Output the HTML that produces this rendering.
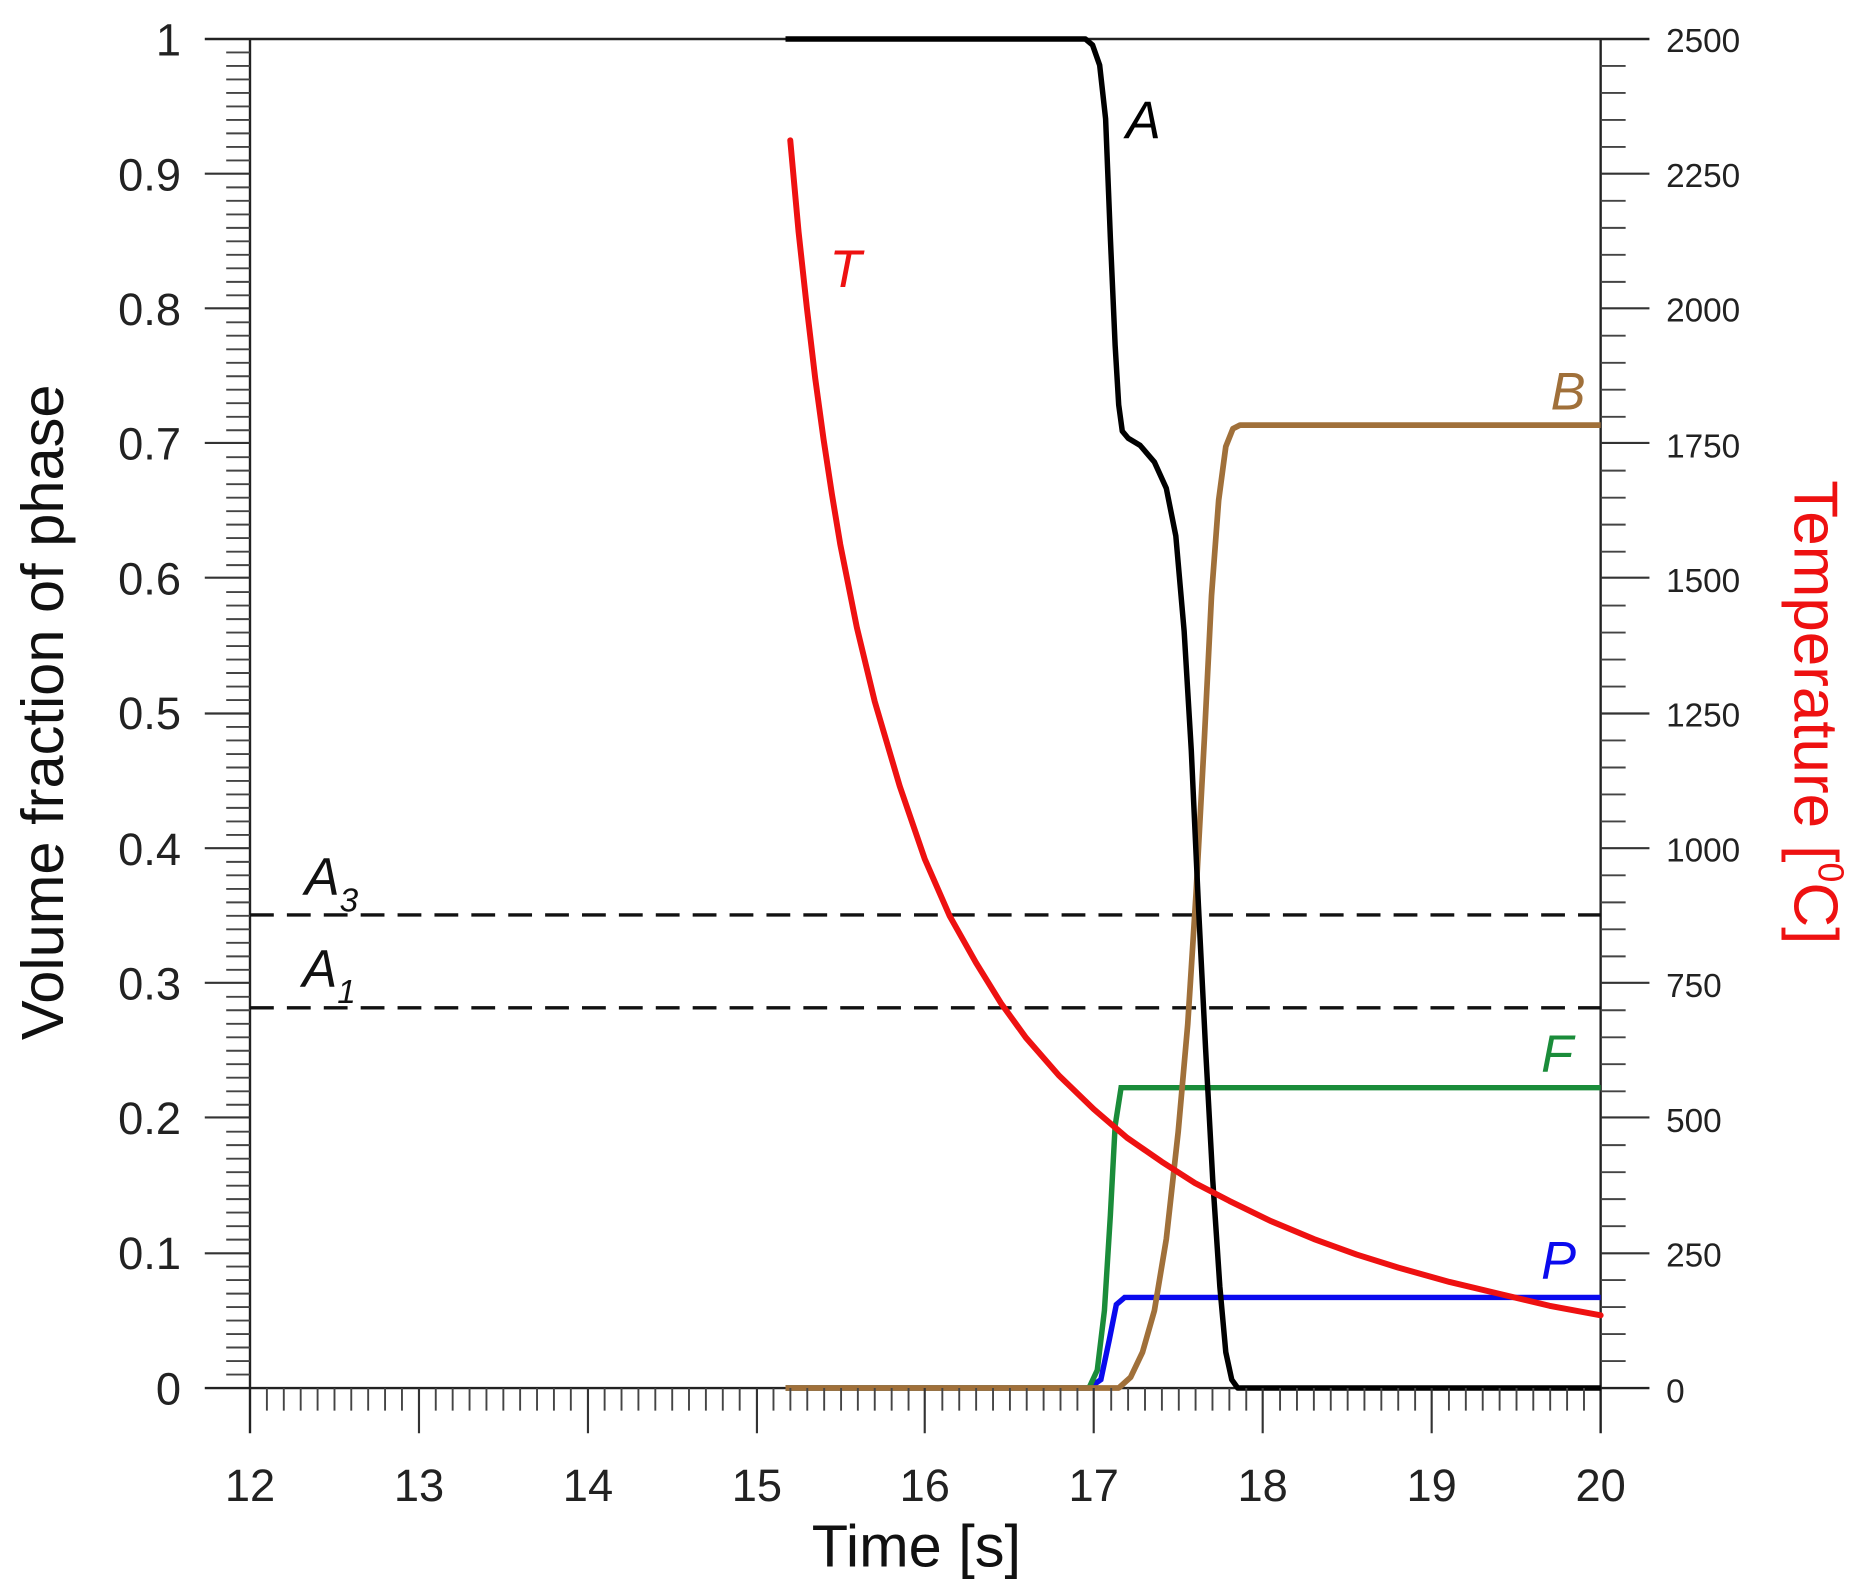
<!DOCTYPE html>
<html><head><meta charset="utf-8"><style>html,body{margin:0;padding:0;background:#fff}svg{display:block}</style></head>
<body>
<svg width="1866" height="1590" viewBox="0 0 1866 1590" xmlns="http://www.w3.org/2000/svg" font-family="'Liberation Sans', Arial, sans-serif">
<g transform="translate(250,39) scale(1.19,1.1917) translate(-210,-33)">
<path d="M172,33 H1386 M210,33 V1203 M172,1165 H1386 M1345,33 V1203" stroke="#222" stroke-width="2" fill="none"/>
<path d="M210,768 H1345 M210,846 H1345" stroke="#111" stroke-width="2.8" stroke-dasharray="20,11" fill="none"/>
<polyline points="660,1165 915,1165 925,1158 932,1125 938,1095 945,1089 1345,1089" stroke="#0a0aee" stroke-width="4.6" fill="none"/>
<polyline points="660,1165 915,1165 922,1150 928,1100 933,1020 937,945 942,913 1345,913" stroke="#1a8c3a" stroke-width="4.6" fill="none"/>
<polyline points="660,1165 940,1165 950,1156 960,1135 970,1100 980,1040 990,950 998,860 1005,750 1012,620 1018,500 1024,420 1030,375 1036,360 1042,357 1345,357" stroke="#a0703a" stroke-width="4.8" fill="none" stroke-linejoin="round"/>
<polyline points="660,33 912,33 918,38 924,55 929,100 933,200 937,290 940,340 943,362 948,368 958,374 970,388 980,410 988,450 995,530 1001,630 1007,760 1013,880 1019,990 1025,1080 1030,1135 1035,1158 1040,1165 1345,1165" stroke="#000" stroke-width="4.6" fill="none" stroke-linejoin="round"/>
<polyline points="664,118 671,195 678,259 685,318 692,369 699,415 706,457 720,527 735,589 756,660 777,721 798,769 820,808 841,842 862,871 890,903 919,931 947,955 976,975 1004,993 1033,1008 1068,1025 1104,1040 1140,1053 1175,1064 1218,1076 1260,1086 1302,1096 1345,1104" stroke="#ee1111" stroke-width="5" fill="none" stroke-linecap="round" stroke-linejoin="round"/>
<g font-style="italic" font-size="44">
<text x="946" y="116" fill="#000">A</text>
<text x="697" y="241" fill="#ee1111">T</text>
<text x="1303" y="344" fill="#a0703a">B</text>
<text x="1295" y="900" fill="#1a8c3a">F</text>
<text x="1295" y="1073" fill="#0a0aee">P</text>
<text x="256" y="751" fill="#111">A<tspan font-size="28" dy="14">3</tspan></text>
<text x="254" y="828" fill="#111">A<tspan font-size="28" dy="14">1</tspan></text>
</g>
<g font-size="38" fill="#222" text-anchor="end">
<text x="152" y="47">1</text><text x="152" y="160">0.9</text><text x="152" y="273">0.8</text><text x="152" y="386">0.7</text><text x="152" y="499">0.6</text><text x="152" y="612">0.5</text><text x="152" y="726">0.4</text><text x="152" y="839">0.3</text><text x="152" y="952">0.2</text><text x="152" y="1065">0.1</text><text x="152" y="1179">0</text>
</g>
<g font-size="38" fill="#222" text-anchor="middle">
<text x="210" y="1260">12</text><text x="352" y="1260">13</text><text x="494" y="1260">14</text><text x="636" y="1260">15</text><text x="777" y="1260">16</text><text x="919" y="1260">17</text><text x="1061" y="1260">18</text><text x="1203" y="1260">19</text><text x="1345" y="1260">20</text>
</g>
<g font-size="28" fill="#222">
<text x="1400" y="44">2500</text><text x="1400" y="157">2250</text><text x="1400" y="270">2000</text><text x="1400" y="384">1750</text><text x="1400" y="497">1500</text><text x="1400" y="610">1250</text><text x="1400" y="723">1000</text><text x="1400" y="837">750</text><text x="1400" y="950">500</text><text x="1400" y="1063">250</text><text x="1400" y="1177">0</text>
</g>
<text x="770" y="1315" font-size="50" fill="#111" text-anchor="middle">Time [s]</text>
<text transform="translate(53,598) rotate(-90)" font-size="50" fill="#111" text-anchor="middle">Volume fraction of phase</text>
<text transform="translate(1508,598) rotate(90)" font-size="52" fill="#ee1111" text-anchor="middle">Temperature [<tspan font-size="30" dy="-20">0</tspan><tspan dy="20">C]</tspan></text>
<path stroke="#333" stroke-width="1.8" fill="none" d="
M172,146H210 M172,259H210 M172,372H210 M172,485H210 M172,599H210 M172,712H210 M172,825H210 M172,938H210 M172,1052H210
M1345,146H1386 M1345,259H1386 M1345,372H1386 M1345,485H1386 M1345,599H1386 M1345,712H1386 M1345,825H1386 M1345,938H1386 M1345,1052H1386
M352,1165V1203 M494,1165V1203 M636,1165V1203 M777,1165V1203 M919,1165V1203 M1061,1165V1203 M1203,1165V1203
"/>
<path stroke="#444" stroke-width="1.6" fill="none" d="
M190,44.3H210 M190,55.6H210 M190,66.9H210 M190,78.3H210 M190,89.6H210 M190,100.9H210 M190,112.2H210 M190,123.6H210 M190,134.9H210 M190,157.5H210 M190,168.8H210 M190,180.2H210 M190,191.5H210 M190,202.8H210 M190,214.1H210 M190,225.4H210 M190,236.8H210 M190,248.1H210 M190,270.7H210 M190,282.0H210 M190,293.4H210 M190,304.7H210 M190,316.0H210 M190,327.3H210 M190,338.6H210 M190,350.0H210 M190,361.3H210 M190,383.9H210 M190,395.2H210 M190,406.6H210 M190,417.9H210 M190,429.2H210 M190,440.5H210 M190,451.8H210 M190,463.2H210 M190,474.5H210 M190,497.1H210 M190,508.4H210 M190,519.8H210 M190,531.1H210 M190,542.4H210 M190,553.7H210 M190,565.0H210 M190,576.4H210 M190,587.7H210 M190,610.3H210 M190,621.6H210 M190,633.0H210 M190,644.3H210 M190,655.6H210 M190,666.9H210 M190,678.2H210 M190,689.6H210 M190,700.9H210 M190,723.5H210 M190,734.8H210 M190,746.2H210 M190,757.5H210 M190,768.8H210 M190,780.1H210 M190,791.4H210 M190,802.8H210 M190,814.1H210 M190,836.7H210 M190,848.0H210 M190,859.4H210 M190,870.7H210 M190,882.0H210 M190,893.3H210 M190,904.6H210 M190,916.0H210 M190,927.3H210 M190,949.9H210 M190,961.2H210 M190,972.6H210 M190,983.9H210 M190,995.2H210 M190,1006.5H210 M190,1017.8H210 M190,1029.2H210 M190,1040.5H210 M190,1063.1H210 M190,1074.4H210 M190,1085.8H210 M190,1097.1H210 M190,1108.4H210 M190,1119.7H210 M190,1131.0H210 M190,1142.4H210 M190,1153.7H210
M1345,55.6H1366 M1345,78.3H1366 M1345,100.9H1366 M1345,123.6H1366 M1345,168.8H1366 M1345,191.5H1366 M1345,214.1H1366 M1345,236.8H1366 M1345,282.0H1366 M1345,304.7H1366 M1345,327.3H1366 M1345,350.0H1366 M1345,395.2H1366 M1345,417.9H1366 M1345,440.5H1366 M1345,463.2H1366 M1345,508.4H1366 M1345,531.1H1366 M1345,553.7H1366 M1345,576.4H1366 M1345,621.6H1366 M1345,644.3H1366 M1345,666.9H1366 M1345,689.6H1366 M1345,734.8H1366 M1345,757.5H1366 M1345,780.1H1366 M1345,802.8H1366 M1345,848.0H1366 M1345,870.7H1366 M1345,893.3H1366 M1345,916.0H1366 M1345,961.2H1366 M1345,983.9H1366 M1345,1006.5H1366 M1345,1029.2H1366 M1345,1074.4H1366 M1345,1097.1H1366 M1345,1119.7H1366 M1345,1142.4H1366
M224.2,1165V1184 M238.4,1165V1184 M252.6,1165V1184 M266.8,1165V1184 M281,1165V1184 M295.1,1165V1184 M309.3,1165V1184 M323.5,1165V1184 M337.7,1165V1184
M366.1,1165V1184 M380.3,1165V1184 M394.5,1165V1184 M408.7,1165V1184 M422.9,1165V1184 M437,1165V1184 M451.2,1165V1184 M465.4,1165V1184 M479.6,1165V1184
M508,1165V1184 M522.2,1165V1184 M536.4,1165V1184 M550.6,1165V1184 M564.8,1165V1184 M578.9,1165V1184 M593.1,1165V1184 M607.3,1165V1184 M621.5,1165V1184
M649.9,1165V1184 M664.1,1165V1184 M678.3,1165V1184 M692.5,1165V1184 M706.7,1165V1184 M720.8,1165V1184 M735,1165V1184 M749.2,1165V1184 M763.4,1165V1184
M791.8,1165V1184 M806,1165V1184 M820.2,1165V1184 M834.4,1165V1184 M848.6,1165V1184 M862.7,1165V1184 M876.9,1165V1184 M891.1,1165V1184 M905.3,1165V1184
M933.7,1165V1184 M947.9,1165V1184 M962.1,1165V1184 M976.3,1165V1184 M990.5,1165V1184 M1004.6,1165V1184 M1018.8,1165V1184 M1033,1165V1184 M1047.2,1165V1184
M1075.6,1165V1184 M1089.8,1165V1184 M1104,1165V1184 M1118.2,1165V1184 M1132.4,1165V1184 M1146.5,1165V1184 M1160.7,1165V1184 M1174.9,1165V1184 M1189.1,1165V1184
M1217.5,1165V1184 M1231.7,1165V1184 M1245.9,1165V1184 M1260.1,1165V1184 M1274.3,1165V1184 M1288.4,1165V1184 M1302.6,1165V1184 M1316.8,1165V1184 M1331,1165V1184
"/>
</g>
</svg>
</body></html>
